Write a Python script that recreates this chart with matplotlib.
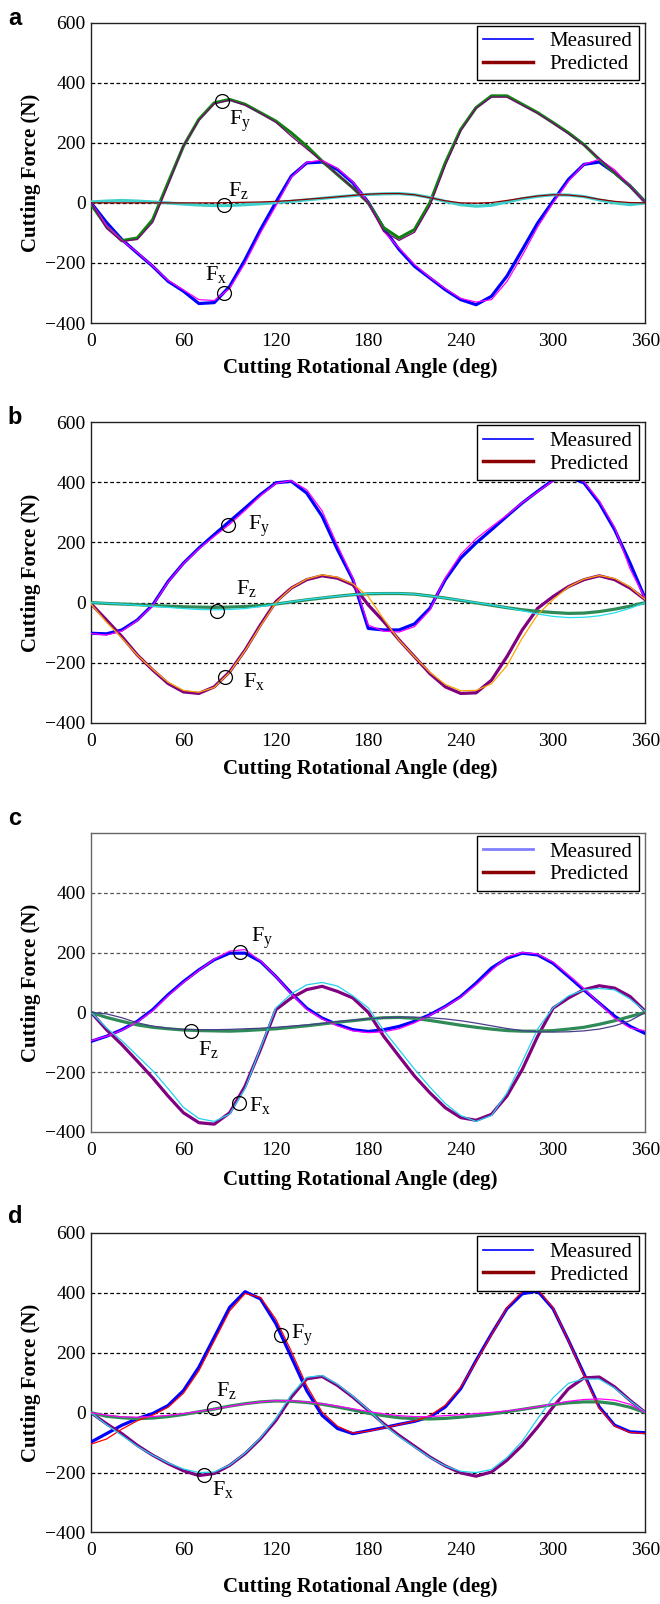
import numpy as np
import matplotlib
matplotlib.use("Agg")
import matplotlib.pyplot as plt
from matplotlib.lines import Line2D

plt.rcParams["font.family"] = "Liberation Serif"
plt.rcParams["mathtext.fontset"] = "custom"
plt.rcParams["mathtext.rm"] = "Liberation Serif"
plt.rcParams["mathtext.it"] = "Liberation Serif:italic"

## Datos (fuerza en N cada 10 grados) ==========================================
angle = np.arange(0, 361, 10)

# Panel a
a_fx_thick = [0, -65, -122, -167, -211, -261, -294, -335, -332, -278, -189, -89, 2, 89, 133, 136, 111, 67, 2,
              -85, -155, -211, -250, -289, -322, -339, -311, -244, -156, -67, 6, 78, 128, 136, 100, 56, 2]
a_fx_thin = [0, -75, -125, -165, -210, -258, -290, -322, -325, -285, -200, -100, -10, 85, 135, 142, 115, 70, 0,
             -95, -150, -205, -248, -285, -318, -330, -322, -262, -175, -80, 0, 72, 128, 145, 110, 55, 0]
a_fy_thick = [-5, -78, -126, -117, -56, 67, 189, 278, 333, 344, 328, 300, 272, 233, 189, 139, 94, 50, 0,
              -83, -117, -89, 0, 133, 244, 317, 356, 356, 328, 300, 267, 233, 194, 144, 100, 56, 2]
a_fy_thin = [0, -85, -128, -122, -65, 60, 190, 275, 330, 342, 325, 298, 268, 222, 180, 138, 95, 50, 0,
             -95, -125, -98, -10, 125, 240, 315, 352, 352, 325, 298, 265, 230, 192, 148, 102, 55, 0]
a_fz_thick = [3, 6, 8, 6, 3, 0, -4, -7, -9, -9, -6, -3, 1, 5, 10, 15, 20, 24, 28,
              30, 31, 27, 18, 5, -6, -11, -8, 3, 14, 22, 27, 26, 21, 10, 0, -6, 0]
a_fz_thin = [0, 0, 0, 0, 0, 0, 0, 0, 0, 1, 2, 3, 5, 8, 12, 16, 20, 25, 29,
             31, 31, 27, 17, 7, 0, -1, 1, 8, 16, 23, 27, 26, 21, 12, 5, 1, 0]

# Panel b
b_fy_thick = [-102, -104, -91, -58, -8, 70, 131, 181, 226, 270, 314, 359, 398, 403, 364, 287, 176, 76, -86,
              -91, -91, -71, -19, 76, 148, 198, 242, 287, 331, 370, 407, 418, 398, 331, 242, 131, 11]
b_fy_thin = [-103, -108, -95, -60, -10, 68, 130, 178, 220, 260, 306, 355, 396, 405, 375, 305, 190, 82, -75,
             -95, -98, -80, -25, 82, 160, 212, 252, 290, 332, 368, 405, 418, 402, 338, 250, 112, 11]
b_fx_thick = [-4, -58, -113, -174, -224, -269, -297, -302, -280, -230, -158, -74, 3, 48, 76, 89, 81, 59, -8,
              -63, -124, -180, -236, -280, -302, -300, -258, -180, -91, -19, 20, 53, 76, 89, 76, 48, 9]
b_fx_thin = [-5, -65, -118, -175, -222, -265, -292, -298, -282, -232, -160, -78, 0, 48, 78, 92, 84, 62, 20,
             -55, -125, -180, -232, -272, -293, -292, -270, -210, -118, -40, 10, 52, 78, 90, 80, 52, 9]
b_fz_thick = [0, -3, -5, -7, -10, -12, -14, -15, -16, -15, -13, -10, -5, 2, 9, 15, 21, 26, 29,
              30, 30, 28, 22, 15, 7, -1, -9, -17, -24, -29, -33, -36, -35, -30, -22, -12, 0]
b_fz_thin = [0, -2, -5, -9, -12, -16, -20, -23, -24, -23, -20, -13, -5, 3, 10, 16, 21, 26, 30,
             31, 31, 28, 22, 15, 8, 0, -8, -17, -27, -38, -46, -50, -49, -44, -34, -19, 0]

# Panel c
c_fy_thick = [-97, -80, -58, -30, 9, 59, 103, 142, 176, 198, 198, 170, 120, 64, 14, -19, -41, -58, -64,
              -58, -47, -30, -8, 20, 53, 98, 148, 181, 198, 192, 164, 120, 75, 31, -13, -47, -71]
c_fy_thin = [-95, -80, -60, -32, 5, 55, 100, 140, 178, 205, 210, 172, 120, 62, 10, -22, -45, -62, -68,
             -65, -55, -35, -10, 18, 50, 92, 140, 185, 200, 195, 168, 125, 80, 30, -20, -52, -62]
c_fx_thick = [0, -58, -108, -163, -219, -280, -336, -369, -374, -336, -247, -124, 9, 48, 76, 87, 70, 48, 0,
              -80, -147, -213, -269, -319, -352, -361, -341, -280, -191, -80, 14, 48, 76, 89, 81, 53, 3]
c_fx_thin = [0, -52, -95, -145, -195, -255, -318, -355, -365, -340, -255, -120, 15, 62, 92, 100, 88, 55, 15,
             -60, -125, -190, -250, -305, -345, -365, -345, -270, -165, -55, 15, 55, 75, 80, 75, 45, 3]
c_fz_thick = [0, -17, -30, -42, -50, -55, -59, -61, -62, -63, -61, -58, -55, -50, -45, -39, -33, -28, -22,
              -18, -17, -20, -27, -35, -43, -50, -56, -61, -63, -63, -61, -56, -50, -40, -28, -14, 0]
c_fz_thin = [0, -5, -18, -35, -46, -53, -57, -58, -58, -57, -55, -53, -50, -46, -42, -37, -31, -26, -22,
             -18, -16, -16, -18, -22, -28, -36, -45, -54, -61, -65, -66, -65, -62, -56, -45, -28, 0]

# Panel d
d_fy_thick = [-98, -70, -42, -20, -3, 24, 74, 152, 252, 352, 404, 380, 297, 186, 74, -9, -53, -70, -60,
              -50, -39, -29, -14, 19, 80, 174, 263, 347, 397, 406, 347, 241, 130, 19, -42, -64, -67]
d_fy_thin = [-105, -88, -55, -27, -8, 18, 65, 140, 240, 340, 398, 385, 312, 205, 90, 2, -45, -68, -62,
             -51, -40, -28, -10, 25, 85, 170, 260, 350, 405, 412, 350, 240, 125, 15, -45, -66, -70]
d_fx_thick = [0, -37, -70, -109, -142, -170, -194, -210, -203, -176, -137, -87, -26, 52, 113, 121, 91, 52, 8,
              -37, -76, -112, -148, -178, -201, -212, -198, -159, -109, -48, 19, 80, 116, 119, 86, 41, 0]
d_fx_thin = [0, -40, -76, -112, -142, -168, -188, -200, -198, -175, -135, -84, -20, 60, 118, 124, 95, 55, 10,
             -40, -80, -115, -150, -178, -196, -200, -190, -150, -95, -20, 50, 98, 113, 112, 82, 40, 0]
d_fz_thick = [0, -12, -17, -20, -18, -13, -6, 3, 12, 22, 30, 36, 39, 38, 34, 28, 19, 9, -2,
              -10, -17, -20, -21, -19, -15, -10, -4, 3, 11, 19, 27, 33, 36, 36, 30, 18, 0]
d_fz_thin = [0, -8, -14, -15, -13, -9, -3, 4, 12, 21, 29, 36, 40, 40, 36, 30, 22, 13, 4,
             -4, -10, -13, -13, -10, -7, -3, 1, 6, 12, 20, 29, 38, 44, 46, 42, 28, 0]

## Configuración de paneles ====================================================
panels = [
    dict(letter="a", pos=[0.138, 0.7986, 0.840, 0.1873], ly=0.9885, xl=-0.118, grid="black", meas="#0000ff",
         curves=[(a_fx_thick, "#0000ff", a_fx_thin, "#ff00ff"),
                 (a_fy_thick, "#108010", a_fy_thin, "#800080"),
                 (a_fz_thick, "#40d0cc", a_fz_thin, "#8b0000")],
         notes=[(85, 339, 97, 272, "y"), (86, -6, 96, 42, "z"), (86, -300, 81, -237, "x")]),
    dict(letter="b", pos=[0.138, 0.5493, 0.840, 0.1876], ly=0.7400, xl=-0.120, grid="black", meas="#0000ff",
         curves=[(b_fy_thick, "#0000ff", b_fy_thin, "#ff00ff"),
                 (b_fx_thick, "#800080", b_fx_thin, "#ffa500"),
                 (b_fz_thick, "#2e8b57", b_fz_thin, "#22e0f0")],
         notes=[(89, 259, 109, 253, "y"), (82, -27, 101, 48, "z"), (87, -249, 106, -261, "x")]),
    dict(letter="c", pos=[0.138, 0.2943, 0.840, 0.1864], ly=0.4900, xl=-0.126, grid="#555555", meas="#8080ff",
         curves=[(c_fy_thick, "#0000ff", c_fy_thin, "#ff00ff"),
                 (c_fx_thick, "#800080", c_fx_thin, "#22d0f0"),
                 (c_fz_thick, "#2e8b57", c_fz_thin, "#483d8b")],
         notes=[(97, 203, 111, 248, "y"), (65, -61, 76, -124, "z"), (96, -302, 110, -311, "x")]),
    dict(letter="d", pos=[0.138, 0.0446, 0.840, 0.1867], ly=0.2413, xl=-0.148, grid="black", meas="#0000ff",
         curves=[(d_fy_thick, "#0000ff", d_fy_thin, "#ff0000"),
                 (d_fx_thick, "#800080", d_fx_thin, "#22d0f0"),
                 (d_fz_thick, "#2e8b57", d_fz_thin, "#ff00ff")],
         notes=[(123, 261, 137, 258, "y"), (80, 16, 88, 75, "z"), (73, -209, 86, -257, "x")]),
]

fig = plt.figure(figsize=(6.6, 16.04), dpi=100)

for p in panels:
    ax = fig.add_axes(p["pos"])
    for thick, c1, thin, c2 in p["curves"]:
        ax.plot(angle, thick, color=c1, lw=2.3, solid_capstyle="round",
                solid_joinstyle="round", zorder=3)
    for thick, c1, thin, c2 in p["curves"]:
        ax.plot(angle, thin, color=c2, lw=0.9, solid_joinstyle="round", zorder=4)

    for gy in [-200, 0, 200, 400]:
        ax.axhline(gy, color=p["grid"], lw=0.9, ls=(0, (3, 2)), zorder=1)

    for cx, cy, tx, ty, sub in p["notes"]:
        ax.plot(cx, cy, "o", ms=10, mfc="none", mec="black", mew=0.9, zorder=5)
        ax.text(tx, ty, "F$_\\mathregular{%s}$" % sub, fontsize=16, ha="center", va="center", zorder=6)

    ax.set_xlim(0, 360)
    ax.set_ylim(-400, 600)
    ax.set_xticks(range(0, 361, 60))
    if p["letter"] == "c":
        ax.set_yticks(range(-400, 401, 200))
    else:
        ax.set_yticks(range(-400, 601, 200))
    ax.tick_params(length=0, labelsize=14)
    ax.tick_params(axis="x", pad=7)
    ax.tick_params(axis="y", pad=4)
    edge = "#666666" if p["letter"] == "c" else "#222222"
    for s in ax.spines.values():
        s.set_color(edge)
        s.set_linewidth(1.0)

    ax.set_xlabel("Cutting Rotational Angle (deg)", fontsize=15, fontweight="bold")
    ax.xaxis.set_label_coords(0.485, p["xl"])
    ax.set_ylabel("Cutting Force (N)", fontsize=15, fontweight="bold", labelpad=3)

    handles = [Line2D([], [], color=p["meas"], lw=1.2 if p["letter"] != "c" else 2),
               Line2D([], [], color="#8b0000", lw=2.5)]
    leg = ax.legend(handles, ["Measured", "Predicted"], loc="upper right",
                    bbox_to_anchor=(0.988, 0.99), fontsize=15, borderaxespad=0,
                    fancybox=False, framealpha=1, edgecolor="black",
                    handlelength=2.4, borderpad=0.3, labelspacing=0.15, handletextpad=0.8)
    leg.get_frame().set_linewidth(1.0)

    fig.text(0.012, p["ly"], p["letter"], fontsize=17, fontweight="bold",
             family="Liberation Sans", ha="left", va="center")

plt.savefig("out.png", dpi=100)
